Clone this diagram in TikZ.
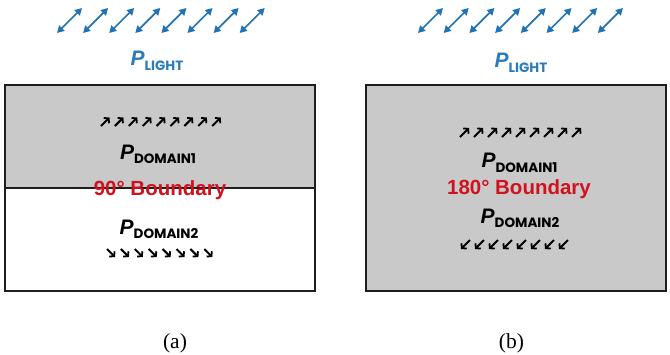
\documentclass[tikz,border=0pt]{standalone}
\usepackage{fontspec}
\setmainfont{Liberation Serif}
\newfontfamily\pfont{Liberation Sans}
\newfontfamily\subfont{Poppins}
\usetikzlibrary{arrows.meta}
\definecolor{lightblue}{HTML}{2A7BBA}
\definecolor{lightarrowblue}{HTML}{2273B3}
\definecolor{boundred}{HTML}{D0121F}
\definecolor{domaingray}{HTML}{C9C9C9}
\definecolor{frameblack}{HTML}{1E1E1E}
% polarisation symbol: bold italic P with a lowered capital subscript
\newcommand{\pol}[2][4pt]{{\pfont\bfseries\itshape\fontsize{21}{21}\selectfont P}\raisebox{-#1}{\subfont\bfseries\fontsize{13.5}{13.5}\selectfont #2}}
\tikzset{
  panel/.style={draw=frameblack, line width=1.8pt},
  lightarrow/.style={lightarrowblue, line width=1.7pt,
    {Triangle[length=7pt,width=7.5pt]}-{Triangle[length=7pt,width=7.5pt]}},
  domarrow/.style={black, line width=2pt,
    -{Straight Barb[length=3.2pt,width=7.5pt,line width=1.8pt]}},
  lighttext/.style={text=lightblue, anchor=base, inner sep=0pt},
  domtext/.style={text=black, anchor=base, inner sep=0pt},
  boundtext/.style={text=boundred, anchor=base, inner sep=0pt, font=\pfont\bfseries\fontsize{20.5}{20.5}\selectfont},
  captext/.style={anchor=base, inner sep=0pt, font=\fontsize{21.5}{21.5}\selectfont}
}
\begin{document}
\begin{tikzpicture}[x=1pt, y=-1pt]
\useasboundingbox (0,0) rectangle (670,354);

% ---------- panel (a): 90 degree boundary ----------
\fill[domaingray] (5,85) rectangle (315,188);
\draw[panel] (5,85) rectangle (315,291);
\draw[frameblack, line width=1.5pt] (5,188) -- (315,188);

\foreach \i in {0,...,7}
  \draw[lightarrow] (57+26.1*\i,33) -- ++(25,-25);
\node[lighttext] (lightA) at (157,65) {\pol[5pt]{LIGHT}};

\foreach \i in {0,...,8}
  \draw[domarrow] (101+13.9*\i,126) -- ++(8.5,-8.5);
\node[domtext] (domA1) at (158,159) {\pol{DOMAIN1}};
\node[boundtext] (boundA) at (160,195) {90° Boundary};
\node[domtext] (domA2) at (159,234) {\pol{DOMAIN2}};
\foreach \i in {0,...,7}
  \draw[domarrow] (107+13.9*\i,249) -- ++(8,8);

\node[captext] (capA) at (175,348) {(a)};

% ---------- panel (b): 180 degree boundary ----------
\fill[domaingray] (366,85) rectangle (666,291);
\draw[panel] (366,85) rectangle (666,291);

\foreach \i in {0,...,7}
  \draw[lightarrow] (418+25.7*\i,33) -- ++(25,-25);
\node[lighttext] (lightB) at (521,67) {\pol[5pt]{LIGHT}};

\foreach \i in {0,...,8}
  \draw[domarrow] (460+14*\i,137) -- ++(9,-9);
\node[domtext] (domB1) at (519.5,167) {\pol[5pt]{DOMAIN1}};
\node[boundtext] (boundB) at (519,194) {180° Boundary};
\node[domtext] (domB2) at (520,223) {\pol{DOMAIN2}};
\foreach \i in {0,...,7}
  \draw[domarrow] (470+14*\i,240) -- ++(-9,9);

\node[captext] (capB) at (511.5,348) {(b)};
\end{tikzpicture}
\end{document}
